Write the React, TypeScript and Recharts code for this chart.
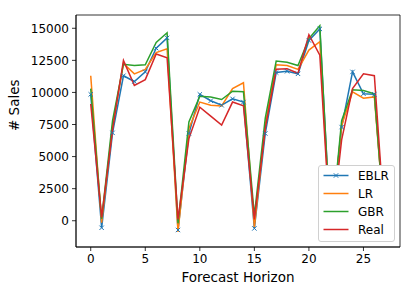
import { LineChart, Line, XAxis, YAxis, ReferenceArea } from "recharts";

// forecast horizon 0..27
const horizon = [
  0, 1, 2, 3, 4, 5, 6, 7, 8, 9, 10, 11, 12, 13,
  14, 15, 16, 17, 18, 19, 20, 21, 22, 23, 24, 25, 26, 27,
];

const eblr = [
  9850, -550, 6850, 11300, 10850, 11600, 13450, 14250, -720, 6800, 9850, 9350, 9000, 9500,
  9250, -600, 6800, 11550, 11650, 11450, 14050, 14950, -900, 7300, 11600, 9900, 9850, -800,
];
const lr = [
  11300, -150, 7400, 12250, 11450, 11800, 13100, 13400, -880, 7200, 9250, 9000, 8950, 10300,
  10750, -500, 7500, 12150, 12100, 11800, 13300, 13950, -1000, 7400, 10050, 9550, 9650, -900,
];
const gbr = [
  10300, 150, 7800, 12200, 12100, 12150, 13900, 14650, -200, 7700, 9700, 9650, 9450, 10100,
  10050, 400, 8000, 12450, 12350, 12100, 14200, 15200, -1100, 7800, 10200, 10150, 9900, -1000,
];
const real = [
  9100, 250, 7100, 12500, 10550, 11000, 13000, 12700, 100, 6400, 8850, 8150, 7450, 9250,
  8950, 100, 7200, 11800, 11850, 11500, 14500, 12900, -1220, 6300, 10300, 11450, 11300, -850,
];

const yTicks = [0, 2500, 5000, 7500, 10000, 12500, 15000];
const xTicks = [0, 5, 10, 15, 20, 25];

const series = [
  { key: "EBLR", color: "#1f77b4", marker: true },
  { key: "LR", color: "#ff7f0e", marker: false },
  { key: "GBR", color: "#2ca02c", marker: false },
  { key: "Real", color: "#d62728", marker: false },
];

const rows = horizon.map((h, i) => ({
  h,
  EBLR: eblr[i],
  LR: lr[i],
  GBR: gbr[i],
  Real: real[i],
}));

const xDomain = [-1.35, 28.35];
const yDomain = [-2047, 16035];

function Cross(props: any) {
  const { cx, cy, stroke } = props;
  if (cx == null || cy == null) return null;
  const s = 2.2;
  return (
    <path
      d={`M${cx - s},${cy - s}L${cx + s},${cy + s}M${cx - s},${cy + s}L${cx + s},${cy - s}`}
      stroke={stroke}
      strokeWidth={1}
      fill="none"
    />
  );
}

function LegendBox() {
  return (
    <svg
      width={78}
      height={78}
      style={{ position: "absolute", left: 317.5, top: 164.5, zIndex: 5 }}
    >
      <rect x={0.5} y={0.5} width={76} height={76} rx={2.5} fill="#fff" stroke="#d0d0d0" />
      {series.map((s, i) => {
        const y = 10.5 + i * 18;
        return (
          <g key={s.key}>
            <line x1={5.5} x2={30.5} y1={y} y2={y} stroke={s.color} strokeWidth={1.5} />
            {s.marker && <Cross cx={18} cy={y} stroke={s.color} />}
            <text x={40} y={y} dominantBaseline="central" fontSize={12} fill="#000">
              {s.key}
            </text>
          </g>
        );
      })}
    </svg>
  );
}

export default function App() {
  return (
    <div
      style={{
        position: "absolute",
        left: 0,
        top: 0,
        width: 415,
        height: 297,
        background: "#fff",
        fontFamily: '"DejaVu Sans", sans-serif',
      }}
    >
      <div style={{ position: "absolute", left: 0, top: 0, zIndex: 1 }}>
        <LineChart width={415} height={297} data={rows} margin={{ top: 15, right: 15, left: 0, bottom: 0 }}>
          <XAxis
            dataKey="h"
            type="number"
            domain={xDomain}
            ticks={xTicks}
            allowDataOverflow
            height={50}
            tickSize={4}
            tickMargin={3}
            tick={{ fill: "#000", fontSize: 12 }}
            tickLine={{ stroke: "#000", strokeWidth: 0.8 }}
            axisLine={{ stroke: "#000", strokeWidth: 0.8 }}
            label={{ value: "Forecast Horizon", position: "insideBottom", offset: 15, fontSize: 13.5, fill: "#000" }}
          />
          <YAxis
            type="number"
            domain={yDomain}
            ticks={yTicks}
            allowDataOverflow
            width={76}
            tickSize={4}
            tickMargin={3}
            tick={{ fill: "#000", fontSize: 12 }}
            tickLine={{ stroke: "#000", strokeWidth: 0.8 }}
            axisLine={{ stroke: "#000", strokeWidth: 0.8 }}
            label={{ value: "# Sales", angle: -90, position: "insideLeft", offset: 14, fontSize: 13.5, fill: "#000" }}
          />
          <ReferenceArea
            x1={xDomain[0]}
            x2={xDomain[1]}
            y1={yDomain[0]}
            y2={yDomain[1]}
            fill="none"
            stroke="#000"
            strokeWidth={0.8}
          />
          {series.map((s) => (
            <Line
              key={s.key}
              dataKey={s.key}
              stroke={s.color}
              strokeWidth={1.5}
              type="linear"
              isAnimationActive={false}
              dot={s.marker ? <Cross stroke={s.color} /> : false}
              activeDot={false}
            />
          ))}
        </LineChart>
      </div>
      <LegendBox />
    </div>
  );
}
